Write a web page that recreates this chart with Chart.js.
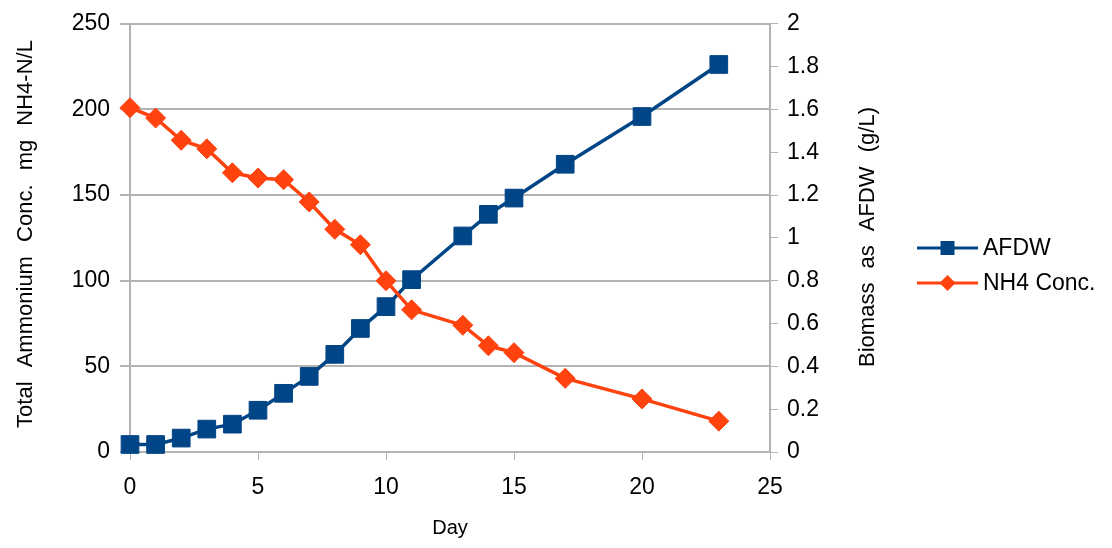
<!DOCTYPE html>
<html>
<head>
<meta charset="utf-8">
<script src="https://cdn.jsdelivr.net/npm/chart.js@4/dist/chart.umd.min.js"></script>
<style>
  html, body { margin: 0; padding: 0; background: #fff; }
  #wrap { width: 1112px; height: 548px; }
</style>
</head>
<body>
<div id="wrap"><canvas id="c" width="1112" height="548"></canvas></div>
<script>
const days = [0, 1, 2, 3, 4, 5, 6, 7, 8, 9, 10, 11, 13, 14, 15, 17, 20, 23];
const afdw = [0.035, 0.035, 0.065, 0.107, 0.13, 0.195, 0.274, 0.353, 0.456, 0.577, 0.679, 0.805, 1.009, 1.11, 1.186, 1.344, 1.567, 1.81];
const nh4 = [201, 195, 182, 177, 163, 160, 159, 146, 130, 121, 100, 83, 74, 62, 58, 43, 31, 18];
const xTicks = [0, 5, 10, 15, 20, 25];
const leftTicks = [0, 50, 100, 150, 200, 250];
const rightTicks = [0, 0.2, 0.4, 0.6, 0.8, 1, 1.2, 1.4, 1.6, 1.8, 2];
const seriesNames = ['AFDW', 'NH4 Conc.'];
const xTitle = 'Day';
const leftTitle = 'Total Ammonium Conc. mg NH4-N/L';
const rightTitle = 'Biomass as AFDW (g/L)';

const BLUE = '#004586';
const ORANGE = '#ff420e';
const FONT = '"Liberation Sans", Arial, sans-serif';

const customDraw = {
  id: 'customDraw',
  afterDraw(chart) {
    const ctx = chart.ctx;
    ctx.save();
    ctx.fillStyle = '#000';
    ctx.font = '22px ' + FONT;
    ctx.textAlign = 'center';
    ctx.textBaseline = 'middle';
    try { ctx.wordSpacing = '8px'; } catch (e) {}
    ctx.save();
    ctx.translate(26, 234);
    ctx.rotate(-Math.PI / 2);
    ctx.fillText(leftTitle, 0, 0);
    ctx.restore();
    ctx.save();
    ctx.translate(868, 237);
    ctx.rotate(-Math.PI / 2);
    ctx.fillText(rightTitle, 0, 0);
    ctx.restore();
    try { ctx.wordSpacing = '0px'; } catch (e) {}
    // legend
    const items = chart.data.datasets;
    const lx0 = 917, lx1 = 978, tx = 983;
    const ys = [248, 283];
    items.forEach((ds, i) => {
      const y = ys[i];
      ctx.strokeStyle = ds.borderColor;
      ctx.lineWidth = 3;
      ctx.beginPath();
      ctx.moveTo(lx0, y);
      ctx.lineTo(lx1, y);
      ctx.stroke();
      ctx.fillStyle = ds.pointBackgroundColor;
      ctx.beginPath();
      const cx = (lx0 + lx1) / 2;
      if (ds.pointStyle === 'rect') {
        const s = 7;
        ctx.rect(cx - s, y - s, 2 * s, 2 * s);
      } else {
        const r = 8;
        ctx.moveTo(cx, y - r); ctx.lineTo(cx + r, y); ctx.lineTo(cx, y + r); ctx.lineTo(cx - r, y); ctx.closePath();
      }
      ctx.fill();
      ctx.fillStyle = '#000';
      ctx.font = '23px ' + FONT;
      ctx.textAlign = 'left';
      ctx.fillText(ds.label, tx, y + 1);
    });
    ctx.restore();
  }
};

new Chart(document.getElementById('c'), {
  type: 'line',
  data: {
    datasets: [
      {
        label: seriesNames[0],
        data: days.map((d, i) => ({ x: d, y: afdw[i] })),
        yAxisID: 'y1',
        borderColor: BLUE,
        backgroundColor: BLUE,
        pointBackgroundColor: BLUE,
        pointBorderColor: BLUE,
        borderWidth: 3.5,
        pointStyle: 'rect',
        pointRadius: 12.5,
        pointBorderWidth: 1,
        tension: 0,
        clip: false,
        order: 2
      },
      {
        label: seriesNames[1],
        data: days.map((d, i) => ({ x: d, y: nh4[i] })),
        yAxisID: 'y',
        borderColor: ORANGE,
        backgroundColor: ORANGE,
        pointBackgroundColor: ORANGE,
        pointBorderColor: ORANGE,
        borderWidth: 3.5,
        pointStyle: 'rectRot',
        pointRadius: 10,
        pointBorderWidth: 1,
        tension: 0,
        clip: false,
        order: 1
      }
    ]
  },
  options: {
    responsive: false,
    animation: false,
    devicePixelRatio: 1,
    layout: { padding: { top: 22, right: 0, left: 0, bottom: 0 } },
    plugins: { legend: { display: false }, tooltip: { enabled: false } },
    scales: {
      x: {
        type: 'linear',
        min: 0, max: 25,
        afterBuildTicks: s => { s.ticks = xTicks.map(v => ({ value: v })); },
        afterFit: s => { s.height = 96; },
        ticks: { color: '#000', font: { family: FONT, size: 23 }, padding: 14, maxRotation: 0 },
        grid: { drawOnChartArea: false, drawTicks: true, tickLength: 8, color: '#b3b3b3' },
        border: { color: '#b3b3b3', width: 2 },
        title: { display: true, text: xTitle, color: '#000', font: { family: FONT, size: 20 }, padding: { top: 4, bottom: 8 } }
      },
      y: {
        position: 'left',
        min: 0, max: 250,
        afterBuildTicks: s => { s.ticks = leftTicks.map(v => ({ value: v })); },
        afterFit: s => { s.width = 130; },
        ticks: { color: '#000', font: { family: FONT, size: 23 }, padding: 10 },
        grid: { color: '#b3b3b3', lineWidth: 2, tickLength: 10 },
        border: { color: '#b3b3b3', width: 2 }
      },
      y1: {
        position: 'right',
        min: 0, max: 2,
        afterBuildTicks: s => { s.ticks = rightTicks.map(v => ({ value: v })); },
        afterFit: s => { s.width = 342; },
        ticks: { color: '#000', font: { family: FONT, size: 23 }, padding: 9,
          callback: v => String(Math.round(v * 10) / 10) },
        grid: { drawOnChartArea: false, drawTicks: true, tickLength: 8, color: '#b3b3b3' },
        border: { color: '#b3b3b3', width: 2 }
      }
    }
  },
  plugins: [customDraw]
});
</script>
</body>
</html>
